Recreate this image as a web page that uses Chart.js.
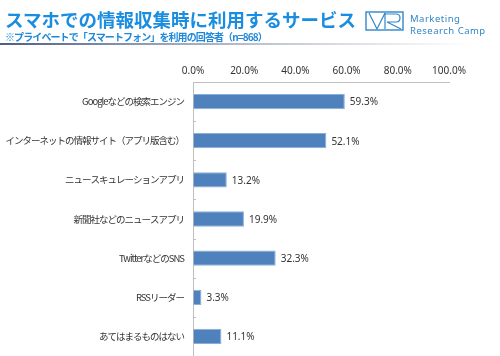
<!DOCTYPE html>
<html><head><meta charset="utf-8">
<script src="https://cdn.jsdelivr.net/npm/chart.js@4"></script>
<style>
html,body{margin:0;padding:0;background:#fff;width:500px;height:356px;overflow:hidden;}
#wrap{position:relative;width:500px;height:356px;}
#c{position:absolute;left:0;top:0;}
.title{position:absolute;left:5px;top:8px;font-family:"Noto Sans CJK JP";font-weight:bold;font-size:18.5px;line-height:22px;color:#1a8de0;white-space:nowrap;}
.sub{position:absolute;left:5px;top:30px;font-family:"Noto Sans CJK JP";font-weight:bold;font-size:10px;line-height:13px;letter-spacing:-0.9px;color:#1f88d8;white-space:nowrap;}
.rule{position:absolute;left:0;top:43px;width:472px;height:2px;background:linear-gradient(to right,#4e5e82 0%,#9aa3ba 35%,#d6d9e2 70%,#ffffff 100%);}
.logo{position:absolute;left:365px;top:11px;}
.brand{position:absolute;left:410px;font-family:"Noto Sans";font-size:9.5px;line-height:11px;color:#2f86c8;letter-spacing:0.5px;white-space:nowrap;}
</style>
</head><body>
<div id="wrap">
<canvas id="c" width="500" height="356"></canvas>
<div class="title">スマホでの情報収集時に利用するサービス</div>
<div class="sub">※プライベートで「スマートフォン」を利用の回答者（n=868）</div>
<div class="rule"></div>
<svg class="logo" width="40" height="21" viewBox="0 0 40 21">
  <rect x="1" y="1" width="37" height="18" fill="none" stroke="#2f86c8" stroke-width="1.4"/>
  <polyline points="4,2 12,18 20,2" fill="none" stroke="#2f86c8" stroke-width="1.2"/>
  <path d="M20,2 L20,18 M20,3 L31,3 Q35,3 35,7 Q35,11 31,11 L22,11 L36,18" fill="none" stroke="#2f86c8" stroke-width="1.2"/>
</svg>
<div class="brand" style="top:13px">Marketing</div>
<div class="brand" style="top:25px">Research Camp</div>
</div>
<script>
const categories = [
  'Googleなどの検索エンジン',
  'インターネットの情報サイト（アプリ版含む）',
  'ニュースキュレーションアプリ',
  '新聞社などのニュースアプリ',
  'TwitterなどのSNS',
  'RSSリーダー',
  'あてはまるものはない'
];
const values = [59.3, 52.1, 13.2, 19.9, 32.3, 3.3, 11.1];
const valueLabels = ['59.3%', '52.1%', '13.2%', '19.9%', '32.3%', '3.3%', '11.1%'];
const tickLabels = ['0.0%', '20.0%', '40.0%', '60.0%', '80.0%', '100.0%'];

const spacingPlugin = {
  id: 'spacing',
  beforeDraw(chart) { chart.ctx.letterSpacing = '-1px'; },
  beforeDatasetsDraw(chart) { chart.ctx.letterSpacing = '0px'; }
};
const catTicks = {
  id: 'catTicks',
  afterDatasetsDraw(chart) {
    const y = chart.scales.y, ctx = chart.ctx, a = chart.chartArea;
    const band = y.getPixelForValue(1) - y.getPixelForValue(0);
    ctx.save();
    ctx.strokeStyle = '#bfbfbf';
    ctx.lineWidth = 1;
    for (let i = 1; i < categories.length; i++) {
      const py = Math.round(y.getPixelForValue(i) - band / 2) + 0.5;
      ctx.beginPath();
      ctx.moveTo(a.left, py);
      ctx.lineTo(a.left + 3, py);
      ctx.stroke();
    }
    ctx.restore();
  }
};
const valueText = {
  id: 'valueText',
  afterDatasetsDraw(chart) {
    const ctx = chart.ctx;
    ctx.save();
    ctx.letterSpacing = '0px';
    ctx.font = '10px "Noto Sans"';
    ctx.fillStyle = '#333333';
    ctx.textBaseline = 'middle';
    ctx.textAlign = 'left';
    chart.getDatasetMeta(0).data.forEach((bar, i) => {
      ctx.fillText(valueLabels[i], bar.x + 5, bar.y + 1);
    });
    ctx.restore();
  }
};

new Chart(document.getElementById('c'), {
  type: 'bar',
  data: {
    labels: categories,
    datasets: [{
      data: values,
      backgroundColor: '#4f81bd',
      borderColor: '#8aaedb',
      borderWidth: 1,
      categoryPercentage: 1,
      barPercentage: 0.39
    }]
  },
  options: {
    indexAxis: 'y',
    responsive: false,
    animation: false,
    layout: { padding: { top: 0, right: 51, bottom: 0, left: 0 } },
    plugins: { legend: { display: false }, tooltip: { enabled: false }, title: { display: false } },
    scales: {
      x: {
        position: 'top',
        min: 0, max: 100,
        afterFit(s) { s.height = 82; s.paddingLeft = 0; s.paddingRight = 0; },
        afterBuildTicks(s) { s.ticks = tickLabels.map((t, i) => ({ value: i * 20 })); },
        ticks: {
          z: 1,
          callback: (v, i) => tickLabels[i],
          font: { family: 'Noto Sans', size: 10 },
          color: '#333333',
          padding: 5,
          maxRotation: 0
        },
        grid: { drawOnChartArea: false, drawTicks: false },
        border: { display: true, color: '#bfbfbf', width: 1 }
      },
      y: {
        afterFit(s) { s.width = 193; s.paddingTop = 0; s.paddingBottom = 0; },
        ticks: {
          font: { family: 'Noto Sans CJK JP', size: 9.5 },
          color: '#333333',
          padding: 9
        },
        grid: { drawOnChartArea: false, drawTicks: false },
        border: { display: true, color: '#bfbfbf', width: 1 }
      }
    }
  },
  plugins: [spacingPlugin, catTicks, valueText]
});
</script>
</body></html>
